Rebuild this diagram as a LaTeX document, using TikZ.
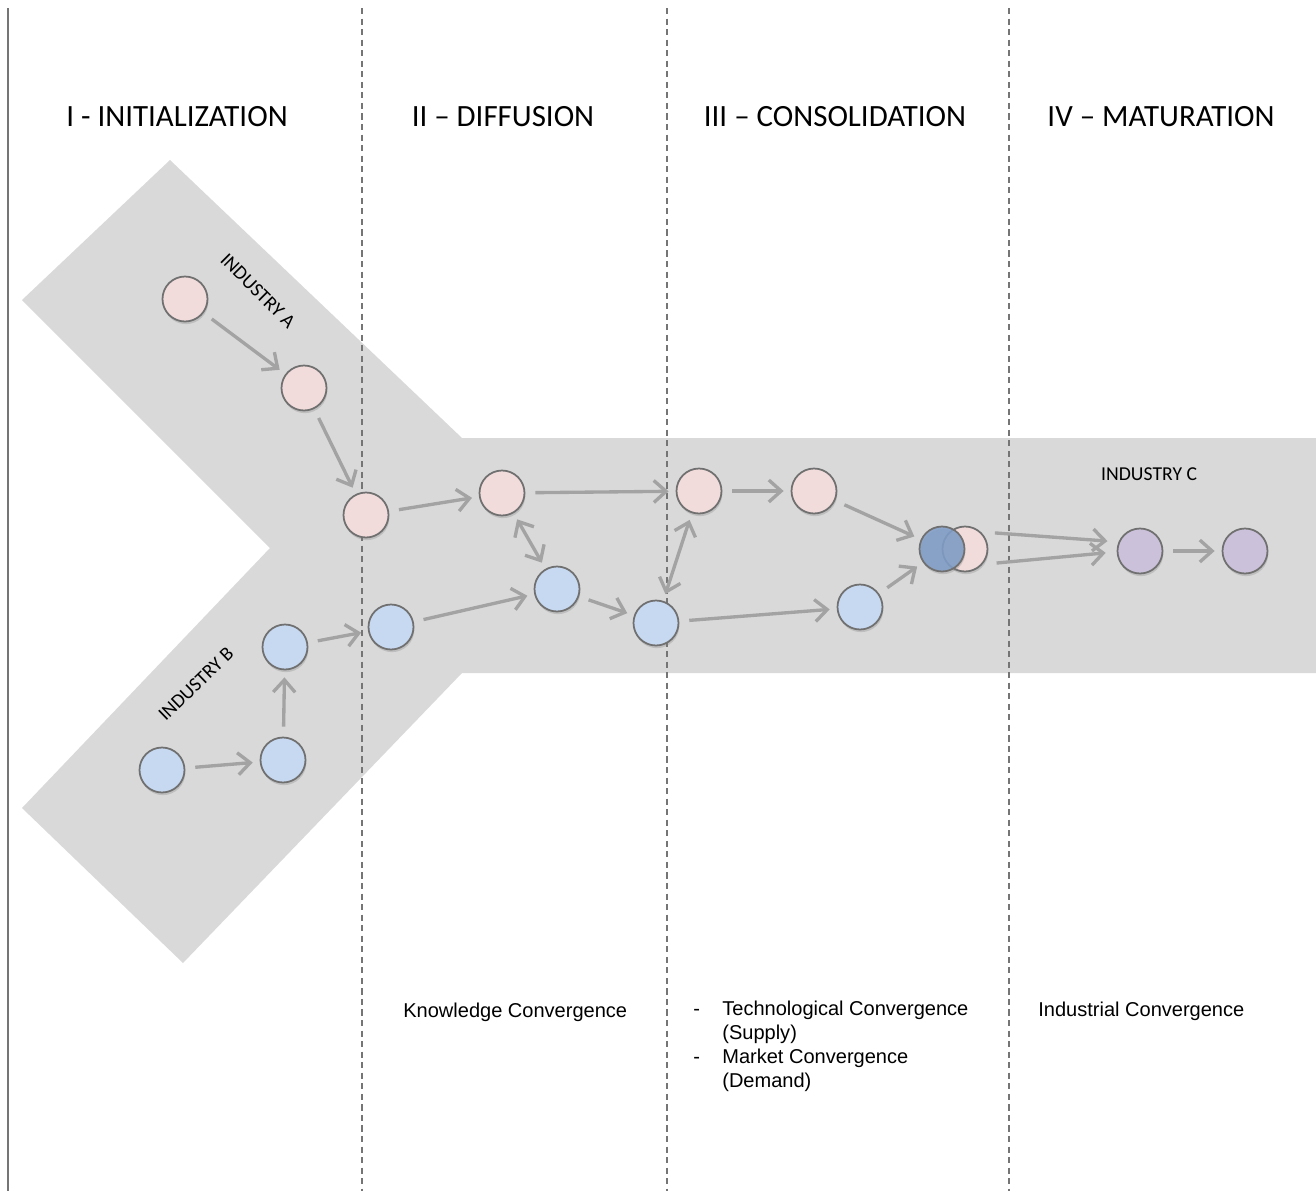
\documentclass[tikz,border=0pt]{standalone}
\usepackage{fontspec}
\setmainfont{Carlito}
\newfontfamily\arialfont{Liberation Sans}
\usepackage{tikz}
\usetikzlibrary{positioning,calc,arrows.meta,shadows}
\definecolor{bandgray}{HTML}{D9D9D9}
\definecolor{arrowgray}{HTML}{A3A3A3}
\definecolor{linegray}{HTML}{757575}
\definecolor{rimgray}{HTML}{707070}
\definecolor{pinkfill}{HTML}{F2DCDB}
\definecolor{bluefill}{HTML}{C6D9F1}
\definecolor{purplefill}{HTML}{CCC1DA}
\definecolor{mergeblue}{HTML}{7F9DC8}

\begin{document}
\begin{tikzpicture}[x=0.02cm, y=-0.02cm,
    stage/.style={circle, minimum size=0.9cm, inner sep=0pt, draw=rimgray, line width=1pt,
        drop shadow={opacity=0.3, shadow xshift=0.5pt, shadow yshift=-1.5pt}},
    pinknode/.style={stage, fill=pinkfill},
    bluenode/.style={stage, fill=bluefill},
    purplenode/.style={stage, fill=purplefill},
    flow/.style={draw=arrowgray, line width=1.9pt, -{Straight Barb[length=7pt, width=12.5pt]},
        shorten <=0.2cm, shorten >=0.14cm},
    twoway/.style={flow, {Straight Barb[length=7pt, width=12.5pt]}-{Straight Barb[length=7pt, width=12.5pt]},
        shorten <=0.14cm},
    phaseline/.style={linegray, dash pattern=on 3.5pt off 2.5pt, line width=0.9pt},
    phasetitle/.style={anchor=base, font=\fontsize{17.6}{20}\selectfont},
    industry/.style={font=\fontsize{11.2}{13}\selectfont},
    outcome/.style={font=\arialfont\fontsize{11.4}{13.5}\selectfont, inner sep=0pt}]
    \useasboundingbox (0,0) rectangle (1316,1191);

    % Industry band (Y shape)
    \fill [bandgray] (170,160) -- (462,438) -- (1316,438) -- (1316,673) -- (462,673)
        -- (183,963) -- (22,808) -- (270,548) -- (22,300) -- cycle;

    % Phase borders
    \draw [linegray, line width=1.1pt] (8,8) -- (8,1191);
    \draw [phaseline] (362,8) -- (362,1191);
    \draw [phaseline] (667,8) -- (667,1191);
    \draw [phaseline] (1009,8) -- (1009,1191);

    % Phase titles
    \node [phasetitle] (init) at (177,126) {I - INITIALIZATION};
    \node [phasetitle] (diff) at (503,126) {II -- DIFFUSION};
    \node [phasetitle] (cons) at (835,126) {III -- CONSOLIDATION};
    \node [phasetitle] (matu) at (1161,126) {IV -- MATURATION};

    % Industry labels
    \node [industry, rotate=-45] (indA) at (258,291) {INDUSTRY A};
    \node [industry, rotate=44] (indB) at (196,684) {INDUSTRY B};
    \node [industry, anchor=base west] (indC) at (1095,480) {INDUSTRY C};

    % Industry A
    \node [pinknode] (a1) at (185,299) {};
    \node [pinknode] (a2) at (304,388) {};
    \node [pinknode] (a3) at (366,515) {};
    \node [pinknode] (a4) at (502,493) {};
    \node [pinknode] (a5) at (699,491) {};
    \node [pinknode] (a6) at (814,491) {};

    % Industry B
    \node [bluenode] (b1) at (162,770) {};
    \node [bluenode] (b2) at (283,760) {};
    \node [bluenode] (b3) at (285,647) {};
    \node [bluenode] (b4) at (391,627) {};
    \node [bluenode] (b5) at (557,589) {};
    \node [bluenode] (b6) at (656,623) {};
    \node [bluenode] (b7) at (860,607) {};

    % Merged firm and Industry C
    \node [pinknode] (mergeA) at (965,549) {};
    \node [stage, fill=mergeblue, fill opacity=0.85] (mergeB) at (942,549) {};
    \node [purplenode] (c1) at (1140,551) {};
    \node [purplenode] (c2) at (1245,551) {};

    % Flows
    \draw [flow] (a1) -- (a2);
    \draw [flow] (a2) -- (a3);
    \draw [flow] (a3) -- (a4);
    \draw [flow] (a4) -- (a5);
    \draw [flow] (a5) -- (a6);
    \draw [flow] (a6) -- (mergeB);
    \draw [flow] (b1) -- (b2);
    \draw [flow] (b2) -- (b3);
    \draw [flow] (b3) -- (b4);
    \draw [flow] (b4) -- (b5);
    \draw [flow] (b5) -- (b6);
    \draw [flow] (b6) -- (b7);
    \draw [flow] (b7) -- (mergeB);
    \draw [twoway] (a4) -- (b5);
    \draw [twoway] (a5) -- (b6);
    \draw [flow, shorten <=0.28cm, shorten >=0.22cm] (mergeA.47) -- (c1.157);
    \draw [flow, shorten <=0.28cm, shorten >=0.22cm] (mergeA.-41) -- (c1.182);
    \draw [flow] (c1) -- (c2);

    % Kinds of convergence
    \node [outcome, anchor=base west] (know) at (403,1017) {Knowledge Convergence};
    \node [outcome, anchor=north west] (techmkt) at (693,999) {%
        \begin{tabular}{@{}p{0.58cm}@{}l@{}}
        - & Technological Convergence\\
          & (Supply)\\
        - & Market Convergence\\
          & (Demand)
        \end{tabular}};
    \node [outcome, anchor=base west] (indus) at (1038,1016) {Industrial Convergence};
\end{tikzpicture}
\end{document}
